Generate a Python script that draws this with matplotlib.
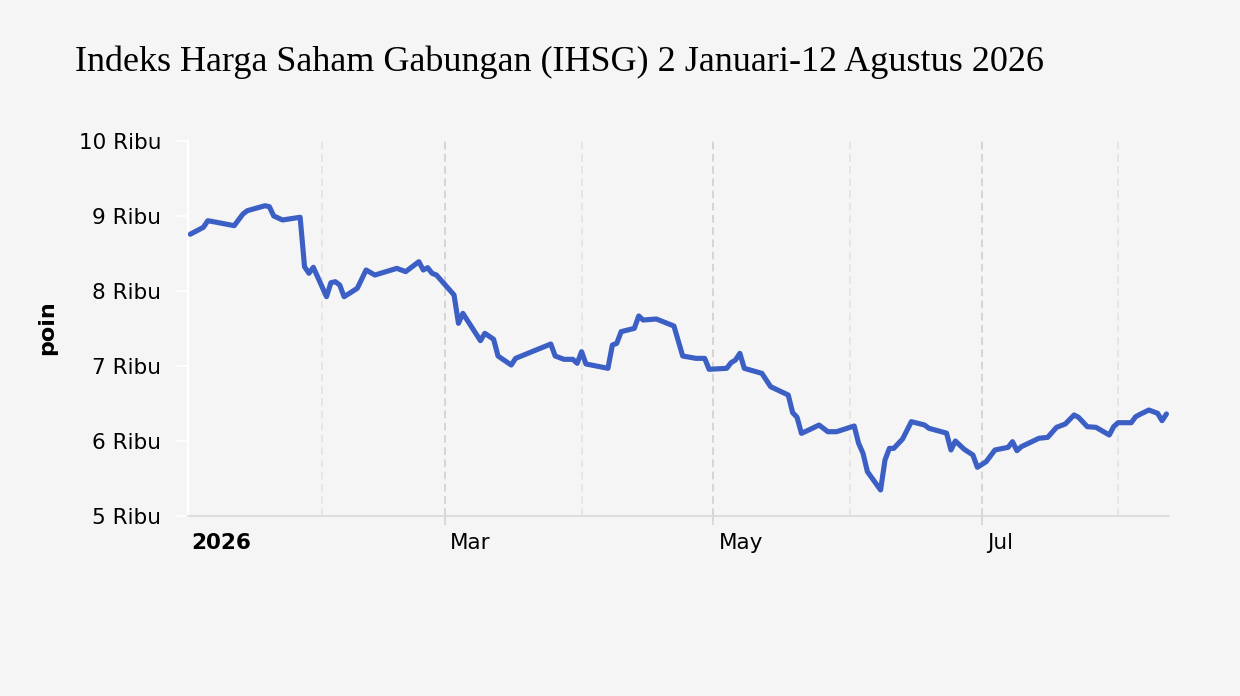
import matplotlib
matplotlib.use("Agg")
import matplotlib.pyplot as plt
import matplotlib.dates as mdates
import matplotlib.transforms as mtransforms
import numpy as np
import pandas as pd

# IHSG closing values (poin)
dates = [
    "2026-01-02", "2026-01-05", "2026-01-06", "2026-01-08", "2026-01-12", "2026-01-14",
    "2026-01-15", "2026-01-19", "2026-01-20", "2026-01-21", "2026-01-23", "2026-01-27",
    "2026-01-28", "2026-01-29", "2026-01-30", "2026-02-02", "2026-02-03", "2026-02-04",
    "2026-02-05", "2026-02-06", "2026-02-09", "2026-02-11", "2026-02-13", "2026-02-18",
    "2026-02-20", "2026-02-23", "2026-02-24", "2026-02-25", "2026-02-26", "2026-02-27",
    "2026-03-03", "2026-03-04", "2026-03-05", "2026-03-09", "2026-03-10", "2026-03-12",
    "2026-03-13", "2026-03-16", "2026-03-17", "2026-03-25", "2026-03-26", "2026-03-28",
    "2026-03-30", "2026-03-31", "2026-04-01", "2026-04-02", "2026-04-07", "2026-04-08",
    "2026-04-09", "2026-04-10", "2026-04-13", "2026-04-14", "2026-04-15", "2026-04-18",
    "2026-04-22", "2026-04-24", "2026-04-27", "2026-04-29", "2026-04-30", "2026-05-04",
    "2026-05-05", "2026-05-06", "2026-05-07", "2026-05-08", "2026-05-12", "2026-05-14",
    "2026-05-18", "2026-05-19", "2026-05-20", "2026-05-21", "2026-05-23", "2026-05-25",
    "2026-05-27", "2026-05-29", "2026-06-02", "2026-06-03", "2026-06-04", "2026-06-05",
    "2026-06-08", "2026-06-09", "2026-06-10", "2026-06-11", "2026-06-13", "2026-06-15",
    "2026-06-18", "2026-06-19", "2026-06-23", "2026-06-24", "2026-06-25", "2026-06-27",
    "2026-06-29", "2026-06-30", "2026-07-02", "2026-07-04", "2026-07-07", "2026-07-08",
    "2026-07-09", "2026-07-10", "2026-07-14", "2026-07-16", "2026-07-18", "2026-07-20",
    "2026-07-22", "2026-07-23", "2026-07-25", "2026-07-27", "2026-07-30", "2026-07-31",
    "2026-08-01", "2026-08-04", "2026-08-05", "2026-08-06", "2026-08-08", "2026-08-10",
    "2026-08-11", "2026-08-12",
]
values = [
    8757, 8849, 8937, 8916, 8871, 9027,
    9071, 9137, 9124, 9000, 8947, 8983,
    8324, 8236, 8316, 7924, 8111, 8124,
    8080, 7924, 8036, 8280, 8213, 8302,
    8258, 8391, 8280, 8311, 8236, 8213,
    7947, 7569, 7702, 7338, 7436, 7356,
    7133, 7013, 7102, 7293, 7133, 7089,
    7089, 7036, 7191, 7027, 6969, 7280,
    7302, 7458, 7502, 7667, 7613, 7627,
    7533, 7133, 7102, 7102, 6956, 6969,
    7044, 7080, 7169, 6969, 6902, 6724,
    6613, 6378, 6316, 6102, 6156, 6213,
    6124, 6124, 6200, 5969, 5836, 5591,
    5347, 5747, 5902, 5902, 6027, 6258,
    6213, 6169, 6105, 5880, 6000, 5890,
    5813, 5649, 5724, 5880, 5916, 5991,
    5871, 5924, 6036, 6049, 6182, 6227,
    6347, 6316, 6191, 6182, 6080, 6191,
    6244, 6244, 6324, 6356, 6413, 6369,
    6271, 6360,
]

y_ticks = [5000, 6000, 7000, 8000, 9000, 10000]
y_labels = ["5 Ribu", "6 Ribu", "7 Ribu", "8 Ribu", "9 Ribu", "10 Ribu"]
major_months = ["2026-01-01", "2026-03-01", "2026-05-01", "2026-07-01"]
major_labels = ["2026", "Mar", "May", "Jul"]
minor_months = ["2026-02-01", "2026-04-01", "2026-06-01", "2026-08-01"]

x = pd.to_datetime(dates)
bg = "#f5f5f5"

fig = plt.figure(figsize=(12.4, 6.96), dpi=100, facecolor=bg)
ax = fig.add_axes([188 / 1240, 1 - 516 / 696, (1169 - 188) / 1240, 375 / 696])
ax.set_facecolor(bg)

ax.plot(x, values, color="#3b5fc4", lw=3.7, solid_joinstyle="round",
        solid_capstyle="round", zorder=3)

ax.set_xlim(pd.Timestamp("2026-01-01 12:00"), pd.Timestamp("2026-08-12 14:00"))
ax.set_ylim(5000, 10000)

# month gridlines (Jan 1 sits just left of the visible range)
major_x = pd.to_datetime(major_months)
minor_x = pd.to_datetime(minor_months)
ax.set_xticks(major_x[1:])
ax.set_xticks(minor_x, minor=True)
ax.tick_params(axis="x", which="major", length=6.5, width=1.2, color="#d4d4d4",
               labelbottom=False)
ax.tick_params(axis="x", which="minor", length=0, labelbottom=False)
ax.grid(True, axis="x", which="major", color="#cccccc", lw=1.1, ls=(0, (5, 3)))
ax.grid(True, axis="x", which="minor", color="#e2e2e2", lw=1.1, ls=(0, (5, 3)))

ax.set_yticks(y_ticks)
ax.set_yticklabels(y_labels, fontsize=15.5, family="DejaVu Sans")
ax.tick_params(axis="y", length=8.6, width=1.2, color="white", pad=10.5)

for side in ["top", "right"]:
    ax.spines[side].set_visible(False)
ax.spines["left"].set_color("white")
ax.spines["left"].set_linewidth(1.6)
ax.spines["bottom"].set_color("#d9d9d9")
ax.spines["bottom"].set_linewidth(1.2)

# month labels, left-aligned just right of their tick
off = mtransforms.ScaledTranslation(5 / 100, -27 / 100, fig.dpi_scale_trans)
trans = mtransforms.blended_transform_factory(ax.transData, ax.transAxes) + off
for d, lab in zip(major_x, major_labels):
    ax.text(mdates.date2num(d), 0, lab, transform=trans, ha="left", va="center",
            fontsize=15.5, family="DejaVu Sans",
            fontweight="bold" if lab == "2026" else "normal", clip_on=False)

fig.text(47 / 1240, 1 - 328 / 696, "poin", rotation=90, ha="center", va="center",
         fontsize=16, fontweight="bold", family="DejaVu Sans")

fig.text(75 / 1240, 1 - 62 / 696, "Indeks Harga Saham Gabungan (IHSG) 2 Januari-12 Agustus 2026",
         ha="left", va="center", fontsize=26, family="Liberation Serif", color="black")

fig.savefig("out.png", dpi=100, facecolor=bg)
